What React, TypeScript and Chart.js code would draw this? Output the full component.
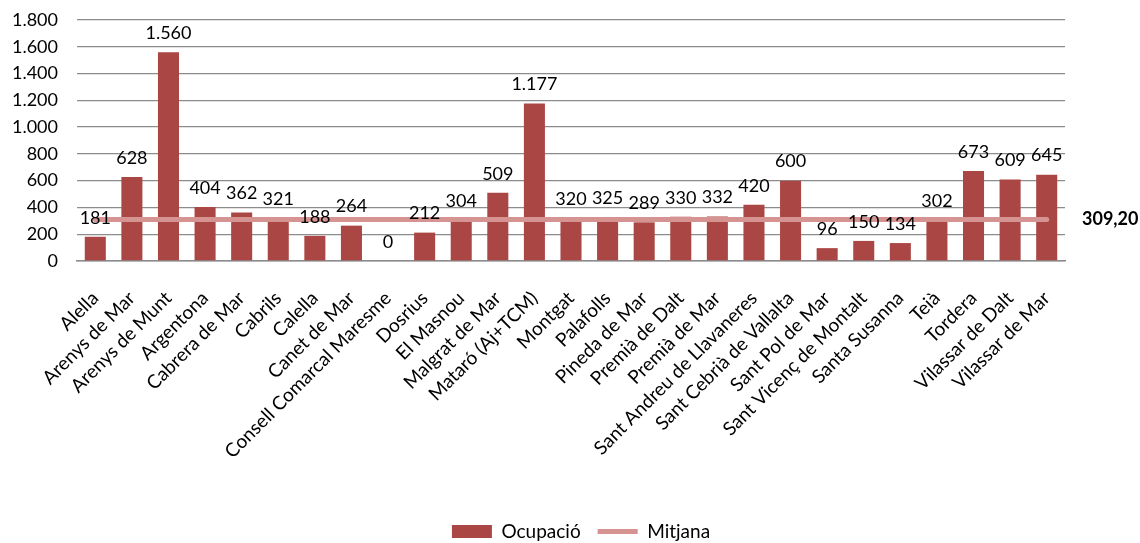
import React, { useEffect, useRef } from "react";
import { Chart, registerables } from "chart.js";

Chart.register(...registerables);

const categories = [
  "Alella",
  "Arenys de Mar",
  "Arenys de Munt",
  "Argentona",
  "Cabrera de Mar",
  "Cabrils",
  "Calella",
  "Canet de Mar",
  "Consell Comarcal Maresme",
  "Dosrius",
  "El Masnou",
  "Malgrat de Mar",
  "Mataró (Aj+TCM)",
  "Montgat",
  "Palafolls",
  "Pineda de Mar",
  "Premià de Dalt",
  "Premià de Mar",
  "Sant Andreu de Llavaneres",
  "Sant Cebrià de Vallalta",
  "Sant Pol de Mar",
  "Sant Vicenç de Montalt",
  "Santa Susanna",
  "Teià",
  "Tordera",
  "Vilassar de Dalt",
  "Vilassar de Mar",
];

const occupancy = [
  181, 628, 1560, 404, 362, 321, 188, 264, 0, 212, 304, 509, 1177, 320, 325,
  289, 330, 332, 420, 600, 96, 150, 134, 302, 673, 609, 645,
];

const averageValue = 309.2;
const averageSeries = categories.map(() => averageValue);

const yMin = 0;
const yMax = 1800;
const yStep = 200;

const seriesNames = ["Ocupació", "Mitjana"];

const FONT = "Lato, 'Open Sans', sans-serif";
const SMALL = 18;
const BIG = 19;

const BAR_COLOR = "#AA4643";
const LINE_COLOR = "#D59392";

const fmtThousands = (n: number) =>
  String(n).replace(/\B(?=(\d{3})+(?!\d))/g, ".");
const fmtDecimal = (n: number) => n.toFixed(2).replace(".", ",");

const valueLabelPlugin = {
  id: "valueLabels",
  afterDatasetsDraw(chart: any) {
    const ctx = chart.ctx;
    ctx.save();
    ctx.fillStyle = "#000";
    ctx.font = `${SMALL}px ${FONT}`;
    ctx.textAlign = "center";
    ctx.textBaseline = "middle";
    const meta = chart.getDatasetMeta(0);
    meta.data.forEach((el: any, i: number) => {
      ctx.fillText(fmtThousands(occupancy[i]), el.x, el.y - 19);
    });
    const lineMeta = chart.getDatasetMeta(1);
    const last = lineMeta.data[lineMeta.data.length - 1];
    ctx.font = `bold ${SMALL}px ${FONT}`;
    ctx.textAlign = "left";
    ctx.fillText(fmtDecimal(averageValue), chart.chartArea.right + 17, last.y);
    ctx.restore();
  },
};

export default function App() {
  const canvasRef = useRef<HTMLCanvasElement | null>(null);

  useEffect(() => {
    if (!canvasRef.current) return;
    const chart = new Chart(canvasRef.current, {
      type: "bar",
      data: {
        labels: categories,
        datasets: [
          {
            type: "bar",
            label: seriesNames[0],
            data: occupancy,
            backgroundColor: BAR_COLOR,
            borderWidth: 0,
            barPercentage: 1,
            categoryPercentage: 0.575,
            yAxisID: "y",
            order: 1,
          },
          {
            type: "line",
            label: seriesNames[1],
            data: averageSeries,
            borderColor: LINE_COLOR,
            backgroundColor: LINE_COLOR,
            borderWidth: 5,
            borderCapStyle: "round",
            pointRadius: 0,
            pointHoverRadius: 0,
            fill: false,
            yAxisID: "y",
            order: 0,
          },
        ],
      } as any,
      options: {
        responsive: false,
        animation: false,
        devicePixelRatio: 1,
        layout: {
          padding: { left: 0, right: -22, top: 20, bottom: -8 },
        },
        plugins: {
          tooltip: { enabled: false },
          legend: {
            position: "bottom",
            labels: {
              color: "#000",
              font: { family: FONT, size: BIG },
              usePointStyle: true,
              pointStyleWidth: 40,
              boxHeight: 13,
              padding: 17,
              sort: (a: any, b: any) => a.datasetIndex - b.datasetIndex,
              generateLabels: (chart: any) => {
                const base = Chart.defaults.plugins.legend.labels.generateLabels(chart);
                return base.map((item: any) => ({
                  ...item,
                  pointStyle: item.datasetIndex === 0 ? "rect" : "line",
                  lineWidth: item.datasetIndex === 0 ? 0 : 5,
                  fillStyle: item.datasetIndex === 0 ? BAR_COLOR : LINE_COLOR,
                  strokeStyle: item.datasetIndex === 0 ? BAR_COLOR : LINE_COLOR,
                }));
              },
            },
          },
        },
        scales: {
          x: {
            grid: { display: false },
            border: { display: true, color: "#8c8c8c", width: 1.5 },
            ticks: {
              color: "#000",
              font: { family: FONT, size: BIG },
              minRotation: 45,
              maxRotation: 45,
              autoSkip: false,
              padding: 18,
            },
            afterFit: (s: any) => {
              s.height = 244;
            },
          },
          y: {
            position: "left",
            min: yMin,
            max: yMax,
            grid: {
              color: "#8c8c8c",
              lineWidth: 1.3,
              drawTicks: true,
              tickLength: 19,
              tickColor: "rgba(0,0,0,0)",
            },
            border: { display: false },
            ticks: {
              stepSize: yStep,
              color: "#000",
              font: { family: FONT, size: SMALL },
              padding: 0,
              callback: (v: any) => fmtThousands(Number(v)),
            },
            afterFit: (s: any) => {
              s.width = 77;
            },
          },
          yRight: {
            position: "right",
            display: true,
            grid: { display: false },
            border: { display: false },
            ticks: { display: false },
            afterFit: (s: any) => {
              s.width = 97;
            },
          },
        },
      },
      plugins: [valueLabelPlugin],
    } as any);
    return () => chart.destroy();
  }, []);

  return (
    <div style={{ position: "fixed", left: 0, top: 0, width: 1140, height: 543, background: "#fff" }}>
      <canvas ref={canvasRef} width={1140} height={543} />
    </div>
  );
}
